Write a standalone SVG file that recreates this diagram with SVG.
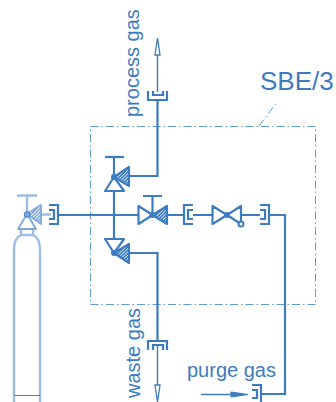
<svg xmlns="http://www.w3.org/2000/svg" width="336" height="402" viewBox="0 0 336 402">
<style>
text{font-family:"Liberation Sans",Arial,sans-serif;fill:#3d7cc1}
.l{fill:none;stroke:#3d7cc1;stroke-width:2.2}
.t{fill:none;stroke:#3d7cc1;stroke-width:1.4}
.f{fill:none;stroke:#5f9ad6;stroke-width:1;stroke-dasharray:8 3 1.5 3}
.v{fill:#fff;stroke:#3d7cc1;stroke-width:2.2;stroke-linejoin:round}
.h{fill:url(#hatch);stroke:#3d7cc1;stroke-width:2.2;stroke-linejoin:round}
.c{fill:none;stroke:#9dbde2;stroke-width:2.4}
.cv{fill:#fff;stroke:#7ea9da;stroke-width:1.8;stroke-linejoin:round}
.ch{fill:url(#hatch2);stroke:#7ea9da;stroke-width:1.8;stroke-linejoin:round}
.d{fill:#3d7cc1;stroke:#3d7cc1}
</style>
<defs>
<pattern id="hatch" width="2.4" height="2.4" patternUnits="userSpaceOnUse" patternTransform="rotate(45)"><rect width="2.4" height="2.4" fill="#fff"/><rect width="1.7" height="2.4" fill="#3d7cc1"/></pattern>
<pattern id="hatch2" width="2.4" height="2.4" patternUnits="userSpaceOnUse" patternTransform="rotate(45)"><rect width="2.4" height="2.4" fill="#fff"/><rect width="1.4" height="2.4" fill="#6f9fd6"/></pattern>
</defs>
<g id="frame">
<rect class="f" x="90.500" y="126.500" width="225" height="178"/>
<path class="f" d="M259 126L278 101"/>
</g>
<g id="connectors">
<path class="l" d="M58 215H138M114 158V239M157.500 100V176H129M129 253H157.500V341M167 215H184M193 215H212M241 215H260M269 215H285V394H262"/>
<path class="t" d="M157.500 92V48M157.500 345V392M201 394.500H234"/>
<path fill="#fff" stroke="#3d7cc1" stroke-width="1.300" d="M157.500 38L160 55H155Z"/>
<path fill="#fff" stroke="#3d7cc1" stroke-width="1.300" d="M157.500 402L155 385H160Z"/>
<path class="d" d="M248 394.500L231 392V397Z"/>
</g>
<g id="cylinder">
<path class="c" d="M14 402V250Q14 238 21 235H33Q40 238 40 250V402"/>
<path class="c" d="M21 235V229M33 235V229M17 195.500H37M27 196V214M41 214.500H51"/>
<path d="M14 395.500H40" fill="none" stroke="#4a80bd" stroke-width="1"/>
<path class="cv" d="M27 214L18 229H36Z"/>
<path class="ch" d="M27 214L41 205V224Z"/>
<circle cx="27" cy="214.500" r="2.800" fill="#7ea9da" stroke="#3d7cc1"/>
</g>
<g id="port-cylinder"><path class="l" d="M49 205H58V224H49M49 210H54V219H49"/></g>
<g id="valve-top">
<path class="l" d="M105 157H124"/>
<path class="v" d="M114 177L105 191H124Z"/>
<path class="h" d="M114 177L129 167V186Z"/>
<circle cx="114" cy="177" r="3" fill="#3d7cc1"/>
</g>
<g id="valve-middle">
<path class="l" d="M143 196H162M152.500 196V215"/>
<path class="v" d="M152.500 215L138.500 206V224Z"/>
<path class="h" d="M152.500 215L167 206V224Z"/>
<circle cx="152.500" cy="215" r="3" fill="#3d7cc1"/>
</g>
<g id="valve-bottom">
<path class="v" d="M114 253L105 239H124Z"/>
<path class="h" d="M114 253L129 244V263Z"/>
<circle cx="114" cy="253" r="3" fill="#3d7cc1"/>
</g>
<g id="valve-check">
<path class="v" d="M227 215L212.500 206V224ZM227 215L241 206V224Z"/>
<circle cx="227" cy="215" r="3" fill="#3d7cc1"/>
<circle cx="241" cy="224" r="2.500" fill="#fff" stroke="#3d7cc1" stroke-width="2"/>
</g>
<g id="port-process"><path class="l" d="M148 91V100H167V91M153 91V95H163V91"/></g>
<g id="port-waste"><path class="l" d="M148 350V341H167V350M153 350V345H163V350"/></g>
<g id="port-in"><path class="l" d="M193 205H184V224H193M193 210H188V219H193"/></g>
<g id="port-out"><path class="l" d="M260 205H269V224H260M260 210H265V219H260"/></g>
<g id="port-purge"><path class="l" d="M252 385H261V402M252 390H257V398H252"/></g>
<text x="260" y="89.500" font-size="26">SBE/3</text>
<text x="187" y="377" font-size="20">purge gas</text>
<text transform="translate(138.500 117) rotate(-90)" font-size="20">process gas</text>
<text transform="translate(140 398) rotate(-90)" font-size="20">waste gas</text>
</svg>
